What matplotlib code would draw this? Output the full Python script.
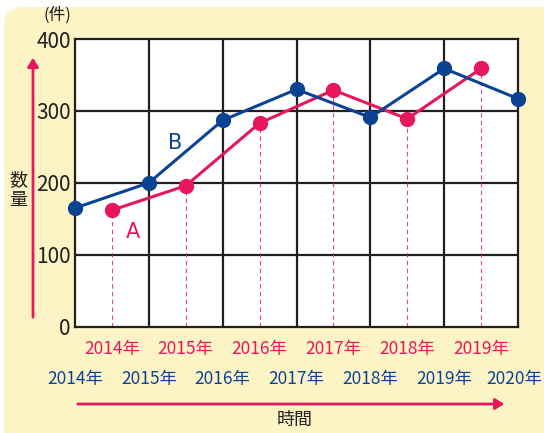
import matplotlib
matplotlib.use("Agg")
import matplotlib.pyplot as plt
import matplotlib.transforms as mtransforms
from matplotlib.patches import FancyBboxPatch, FancyArrowPatch

plt.rcParams['font.family'] = ['Noto Sans CJK JP', 'DejaVu Sans']

# data
years_b = ['2014年', '2015年', '2016年', '2017年', '2018年', '2019年', '2020年']
values_b = [165, 200, 287, 330, 291, 359, 317]
years_a = ['2014年', '2015年', '2016年', '2017年', '2018年', '2019年']
values_a = [162, 196, 283, 329, 289, 359]
yticks = [0, 100, 200, 300, 400]

blue = '#0b4392'
pink = '#e8175d'
cream = '#fdf4c6'

fig = plt.figure(figsize=(5.44, 4.33), dpi=100)
W, H = 544, 433

# cream rounded background
bg = FancyBboxPatch((4 / W, -0.1), 1.2, 1 - 7 / H + 0.1,
                    boxstyle='round,pad=0,rounding_size=0.04',
                    transform=fig.transFigure, facecolor=cream,
                    edgecolor='none', zorder=-5)
fig.patches.append(bg)

ax = fig.add_axes([75 / W, 1 - 326.7 / H, 443 / W, 287.7 / H])
ax.set_facecolor('white')
ax.set_xlim(0, 6)
ax.set_ylim(0, 400)

xb = list(range(len(values_b)))
xa = [i + 0.5 for i in range(len(values_a))]

# grid
for x in range(1, 6):
    ax.axvline(x, color='#231f20', lw=1.6, zorder=1)
for y in yticks[1:-1]:
    ax.axhline(y, color='#231f20', lw=1.6, zorder=1)
for s in ax.spines.values():
    s.set_color('#231f20')
    s.set_linewidth(1.6)

# dashed drop lines for A
for x, v in zip(xa, values_a):
    ax.plot([x, x], [0, v], color=pink, lw=0.8, ls=(0, (4, 3)), alpha=0.8, zorder=2)

ax.plot(xb, values_b, color=blue, lw=2.2, marker='o', ms=10, zorder=4, clip_on=False)
ax.plot(xa, values_a, color=pink, lw=2.2, marker='o', ms=10, zorder=3, clip_on=False)

ax.text(1.35, 255, 'B', color=blue, fontsize=15, ha='center', va='center', family='DejaVu Sans')
ax.text(0.78, 131, 'A', color=pink, fontsize=15, ha='center', va='center', family='DejaVu Sans')

ax.set_xticks([])
ax.set_yticks(yticks)
ax.set_yticklabels([str(t) for t in yticks], fontsize=15, color='#231f20')
ax.tick_params(axis='y', length=0, pad=3)

for x, lab in zip(xa, years_a):
    ax.text(x, -31, lab, color=pink, fontsize=12.5, ha='center', va='center',
            transform=ax.transData, clip_on=False)
for i, (x, lab) in enumerate(zip(xb, years_b)):
    tr = ax.transData
    if i == len(years_b) - 1:
        # last label would run off the edge: nudge it left a little
        tr = ax.transData + mtransforms.ScaledTranslation(-4 / 100, 0, fig.dpi_scale_trans)
    ax.text(x, -73, lab, color=blue, fontsize=12.5, ha='center', va='center',
            transform=tr, clip_on=False)

# axis arrows and titles
fig.text(57 / W, 1 - 15 / H, '(件)', fontsize=12, ha='center', va='center', color='#231f20')
fig.text(18 / W, 1 - 190 / H, '数\n量', fontsize=13, ha='center', va='center',
         color='#231f20', linespacing=1.1)
fig.patches.append(FancyArrowPatch((33 / W, 1 - 320 / H), (33 / W, 1 - 55 / H),
                                   transform=fig.transFigure, arrowstyle='-|>,head_length=4,head_width=2.5',
                                   color=pink, lw=2, mutation_scale=1.3))
fig.patches.append(FancyArrowPatch((75 / W, 1 - 404 / H), (507 / W, 1 - 404 / H),
                                   transform=fig.transFigure, arrowstyle='-|>,head_length=4,head_width=2.5',
                                   color=pink, lw=2, mutation_scale=1.3))
fig.text(295 / W, 1 - 420 / H, '時間', fontsize=13, ha='center', va='center', color='#231f20')

fig.savefig('out.png', dpi=100, facecolor='white')
